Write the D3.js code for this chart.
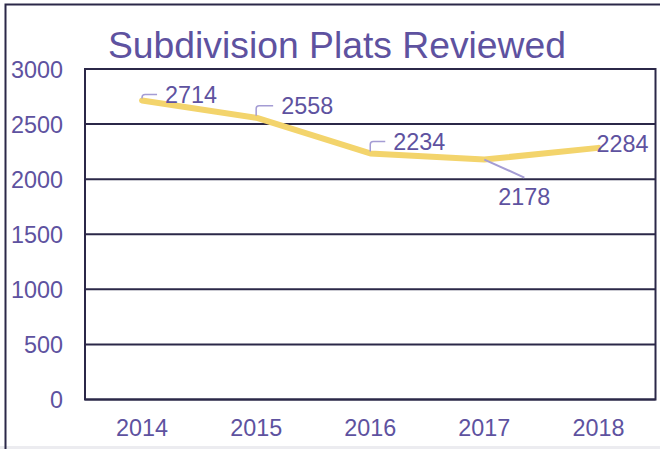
<!DOCTYPE html>
<html><head><meta charset="utf-8">
<script src="https://cdnjs.cloudflare.com/ajax/libs/d3/7.8.5/d3.min.js"></script>
<style>html,body{margin:0;padding:0;background:#fff;}svg{display:block;}</style>
</head><body>
<script>
const years = ["2014","2015","2016","2017","2018"];
const values = [2714, 2558, 2234, 2178, 2284];
const yTicks = [0, 500, 1000, 1500, 2000, 2500, 3000];
const title = "Subdivision Plats Reviewed";

(function(){
const W = 660, H = 449;
const svg = d3.select("body").append("svg").attr("width", W).attr("height", H);
const font = "'Liberation Sans', Arial, sans-serif";
const purple = "#5E52A0";
const dark = "#2B2848";
const fs = 24;
const digitW = 13;

// outer frame
svg.append("rect").attr("x",0).attr("y",446).attr("width",W).attr("height",3).attr("fill","#ececf0");
svg.append("path").attr("d",`M5.5,449 V4.5 H${W}`).attr("fill","none").attr("stroke",dark).attr("stroke-width",2);

const pL = 85, pR = 655.5, pT = 69, pB = 399.5;
const x = d3.scaleBand().domain(years).range([pL, pR]);
const y = d3.scaleLinear().domain([0, 3000]).range([pB, pT]);

// gridlines
svg.append("g").selectAll("line").data(yTicks).join("line")
  .attr("x1", pL).attr("x2", pR)
  .attr("y1", d => y(d)).attr("y2", d => y(d))
  .attr("stroke", dark).attr("stroke-width", 2);
// plot border
svg.append("rect").attr("x",pL).attr("y",pT).attr("width",pR-pL).attr("height",pB-pT)
  .attr("fill","none").attr("stroke",dark).attr("stroke-width",2);

function styleText(sel){
  sel.attr("font-family",font).attr("font-size",fs).attr("fill",purple)
    .attr("textLength", function(){ return this.textContent.length*digitW; })
    .attr("lengthAdjust","spacingAndGlyphs");
}

// y axis labels
const yAxis = d3.axisLeft(y).tickValues(yTicks).tickFormat(d3.format("d")).tickSize(0).tickPadding(22);
const gy = svg.append("g").attr("transform",`translate(${pL},0)`).call(yAxis);
gy.select(".domain").remove();
gy.selectAll("text").call(styleText).attr("dy","0.35em");

// x axis labels
const xAxis = d3.axisBottom(x).tickSize(0).tickPadding(19);
const gx = svg.append("g").attr("transform",`translate(0,${pB})`).call(xAxis);
gx.select(".domain").remove();
gx.selectAll("text").call(styleText).attr("dy","0.71em");

// title
svg.append("text").attr("x",108).attr("y",58).attr("font-family",font).attr("font-size",37)
  .attr("fill",purple).attr("textLength",458).attr("lengthAdjust","spacingAndGlyphs").text(title);

const cx = d => x(d) + x.bandwidth()/2;

// line
const line = d3.line().x((d,i) => cx(years[i])).y(d => y(d));
svg.append("path").datum(values).attr("d", line).attr("fill","none")
  .attr("stroke","#F3D46C").attr("stroke-width",6).attr("stroke-linejoin","round").attr("stroke-linecap","round");

// leader lines and labels
const leader = "#A49CD4";
const labelCfg = [
  {dx: 23, dy: -6, type: "elbow"},
  {dx: 25, dy: -12, type: "elbow"},
  {dx: 23, dy: -12, type: "elbow"},
  {dx: 14, dy: 37, type: "diag"},
  {dx: -2, dy: -4, type: "none"}
];
values.forEach((v, i) => {
  const px = cx(years[i]), py = y(v), c = labelCfg[i];
  if (c.type === "elbow") {
    svg.append("path").attr("d",`M${px},${py-2} V${py+c.dy+3} Q${px},${py+c.dy} ${px+3},${py+c.dy} H${px+c.dx-8}`)
      .attr("fill","none").attr("stroke",leader).attr("stroke-width",1.5);
  } else if (c.type === "diag") {
    svg.append("line").attr("x1",px).attr("y1",py).attr("x2",px+40).attr("y2",py+18)
      .attr("stroke",leader).attr("stroke-width",2);
  }
  svg.append("text").attr("x", px + c.dx).attr("y", py + c.dy).attr("dy","0.35em")
    .text(v).call(styleText);
});
})();
</script>
</body></html>
